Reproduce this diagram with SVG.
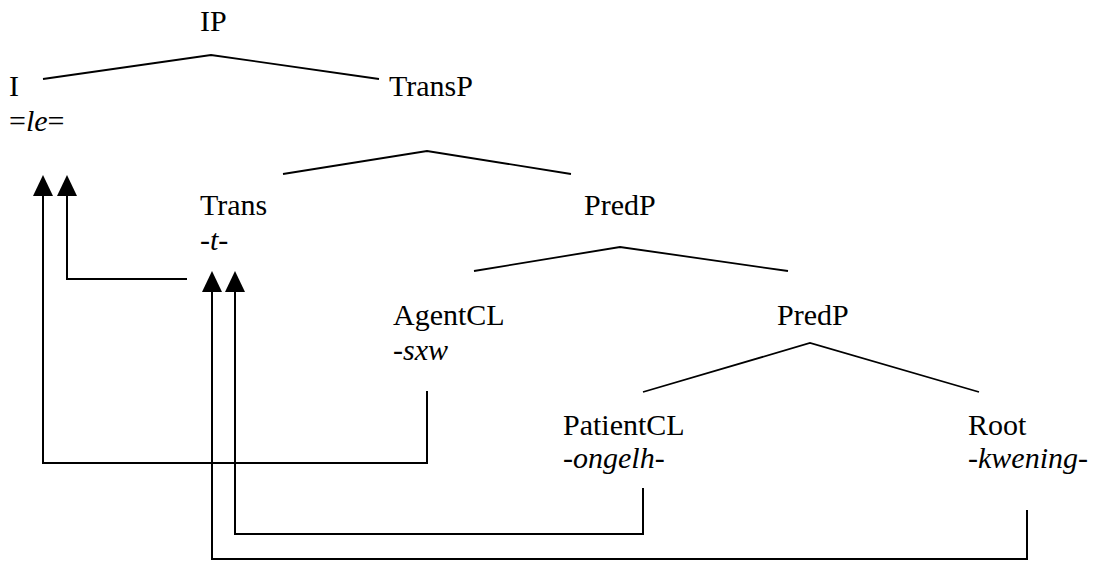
<svg xmlns="http://www.w3.org/2000/svg" width="1099" height="562" viewBox="0 0 1099 562">
<style>
text{font-family:'Liberation Serif','Times New Roman',serif;font-size:30px;fill:#000}
.it{font-style:italic}
.br{fill:none;stroke:#000;stroke-width:1.8}
.cn{fill:none;stroke:#000;stroke-width:2}
</style>
<defs>
<marker id="ah" markerUnits="userSpaceOnUse" markerWidth="22" markerHeight="22" refX="0" refY="10" orient="auto" viewBox="0 0 22 22">
<path d="M0,0 L21,10 L0,20 Z" fill="#000"/>
</marker>
</defs>
<rect width="1099" height="562" fill="#fff"/>
<g id="branches">
<polyline class="br" points="43,79 211,55 379,79"/>
<polyline class="br" points="283,174 427,151 571,174"/>
<polyline class="br" points="474,271 620,247 788,271"/>
<polyline class="br" points="643,392 810,343 979,392"/>
</g>
<g id="node-IP"><text x="200" y="31">IP</text></g>
<g id="node-I"><text x="9" y="96">I</text><text x="9" y="131">=<tspan class="it">le</tspan>=</text></g>
<g id="node-TransP"><text x="389" y="96">TransP</text></g>
<g id="node-Trans"><text x="200" y="215">Trans</text><text x="200" y="250" class="it">-t-</text></g>
<g id="node-PredP1"><text x="584" y="215">PredP</text></g>
<g id="node-AgentCL"><text x="393" y="325">AgentCL</text><text x="393" y="360">-<tspan class="it">sxw</tspan></text></g>
<g id="node-PredP2"><text x="777" y="325">PredP</text></g>
<g id="node-PatientCL"><text x="563" y="435">PatientCL</text><text x="563" y="468" class="it">-ongelh-</text></g>
<g id="node-Root"><text x="968" y="435">Root</text><text x="968" y="468" class="it">-kwening-</text></g>
<g id="connectors">
<polyline class="cn" points="427,391 427,463 43,463 43,196" marker-end="url(#ah)"/>
<polyline class="cn" points="187,279 67,279 67,196" marker-end="url(#ah)"/>
<polyline class="cn" points="643,488 643,534 235,534 235,292" marker-end="url(#ah)"/>
<polyline class="cn" points="1027,510 1027,559 212,559 212,292" marker-end="url(#ah)"/>
</g>
</svg>
